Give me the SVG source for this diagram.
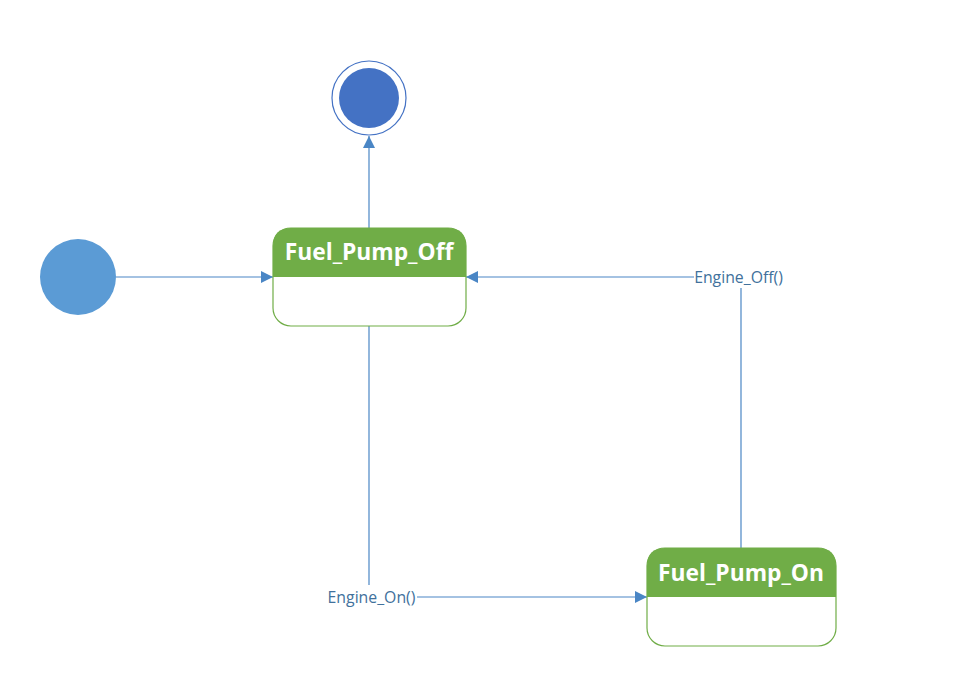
<svg xmlns="http://www.w3.org/2000/svg" width="959" height="674" viewBox="0 0 959 674">
<defs>
<style>
.conn{stroke:#4a86c5;stroke-width:1.2;fill:none}
.lbl{font-family:"Open Sans","Liberation Sans",sans-serif;font-size:15.8px;fill:#41719c}
.title{font-family:"Open Sans","Liberation Sans",sans-serif;font-size:22.8px;font-weight:bold;fill:#ffffff}
.body{fill:#ffffff;stroke:#70ad47;stroke-width:1.2}
.head{fill:#70ad47}
</style>
<marker id="arr" viewBox="0 0 10 10" refX="10" refY="5" markerWidth="12" markerHeight="12" markerUnits="userSpaceOnUse" orient="auto">
<path d="M0,0 L10,5 L0,10 z" fill="#4a86c5"/>
</marker>
</defs>
<rect width="959" height="674" fill="#ffffff"/>
<g id="connectors">
<line class="conn" x1="116" y1="277" x2="273" y2="277" marker-end="url(#arr)"/>
<line class="conn" x1="369" y1="228" x2="369" y2="136" marker-end="url(#arr)"/>
<polyline class="conn" points="369,326 369,585"/>
<line class="conn" x1="417" y1="597" x2="647" y2="597" marker-end="url(#arr)"/>
<polyline class="conn" points="741,548 741,288"/>
<line class="conn" x1="694" y1="277" x2="466" y2="277" marker-end="url(#arr)"/>
<text class="lbl" x="371.5" y="602.5" text-anchor="middle">Engine_On()</text>
<text class="lbl" x="738.5" y="282.5" text-anchor="middle">Engine_Off()</text>
</g>
<g id="initial">
<circle cx="78" cy="277" r="38" fill="#5b9bd5"/>
</g>
<g id="final">
<circle cx="369" cy="98" r="37" fill="#ffffff" stroke="#4472c4" stroke-width="1.2"/>
<circle cx="369" cy="98" r="30" fill="#4472c4"/>
</g>
<g id="fuel_pump_off">
<rect class="body" x="273" y="228" width="193" height="98" rx="18" ry="18"/>
<path class="head" d="M273,277 L273,246 Q273,228 291,228 L448,228 Q466,228 466,246 L466,277 Z"/>
<text class="title" x="369" y="260" text-anchor="middle">Fuel_Pump_Off</text>
</g>
<g id="fuel_pump_on">
<rect class="body" x="647" y="548" width="189" height="98" rx="18" ry="18"/>
<path class="head" d="M647,597 L647,566 Q647,548 665,548 L818,548 Q836,548 836,566 L836,597 Z"/>
<text class="title" x="741" y="581" text-anchor="middle">Fuel_Pump_On</text>
</g>
</svg>
